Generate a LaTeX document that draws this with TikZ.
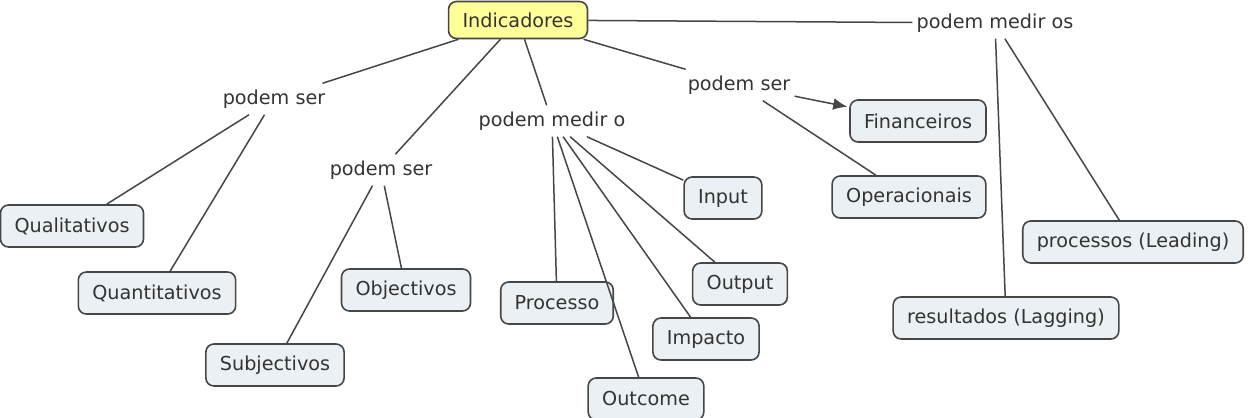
\documentclass[tikz,border=0pt]{standalone}
\usepackage{fontspec}
\setmainfont{DejaVu Sans}
\usepackage{xcolor}
\usepackage{tikz}
\usetikzlibrary{arrows.meta}
\definecolor{conceptfill}{RGB}{234,240,243}
\definecolor{rootfill}{RGB}{255,255,153}
\definecolor{edgegray}{RGB}{70,70,70}
\definecolor{inkgray}{RGB}{51,51,51}

\begin{document}
\begin{tikzpicture}[x=0.5pt, y=-0.5pt,
  concept/.style={draw=edgegray, fill=conceptfill, rounded corners=4pt, line width=0.8pt, minimum height=21pt, inner xsep=7pt, text=inkgray, font=\fontsize{9.6}{11}\selectfont},
  root/.style={concept, fill=rootfill, minimum height=18.5pt, inner xsep=7pt},
  linkphrase/.style={text=inkgray, inner xsep=2pt, inner ysep=3pt, font=\fontsize{9.6}{11}\selectfont},
  conn/.style={draw=edgegray, line width=0.75pt},
  connarrow/.style={conn, -{Latex[length=7pt, width=6pt]}, shorten >=1pt}
]
\useasboundingbox (0,0) rectangle (1254,418);

\node[root] (ind) at (518,20) {Indicadores};

% link phrases
\node[linkphrase] (serA) at (274,99) {podem ser};
\node[linkphrase] (serB) at (381,170) {podem ser};
\node[linkphrase] (medirO) at (552,121) {podem medir o};
\node[linkphrase] (serC) at (739,85) {podem ser};
\node[linkphrase] (medirOs) at (995,23) {podem medir os};

% concepts
\node[concept] (quali) at (72,226) {Qualitativos};
\node[concept] (quanti) at (157,293) {Quantitativos};
\node[concept] (obj) at (406,290) {Objectivos};
\node[concept] (subj) at (275,365) {Subjectivos};
\node[concept] (proc) at (557,303) {Processo};
\node[concept] (input) at (723,198) {Input};
\node[concept] (output) at (740,284) {Output};
\node[concept] (impacto) at (706,339) {Impacto};
\node[concept] (outcome) at (646,399) {Outcome};
\node[concept] (fin) at (918,121) {Financeiros};
\node[concept] (oper) at (909,197) {Operacionais};
\node[concept] (leading) at (1133,242) {processos (Leading)};
\node[concept] (lagging) at (1006,318) {resultados (Lagging)};

\draw[conn] (ind) -- (serA);
\draw[conn] (serA) -- (quali);
\draw[conn] (serA) -- (quanti);

\draw[conn] (ind) -- (serB);
\draw[conn] (serB) -- (subj);
\draw[conn] (serB) -- (obj);

\draw[conn] (ind) -- (medirO);
\foreach \n in {proc,outcome,impacto,output,input}
  \draw[conn] (medirO) -- (\n);

\draw[conn] (ind) -- (serC);
\draw[connarrow] (serC) -- (fin);
\draw[conn] (serC) -- (oper);

\draw[conn] (ind) -- (medirOs);
\draw[conn] (medirOs) -- (lagging);
\draw[conn] (medirOs) -- (leading);

\end{tikzpicture}
\end{document}
